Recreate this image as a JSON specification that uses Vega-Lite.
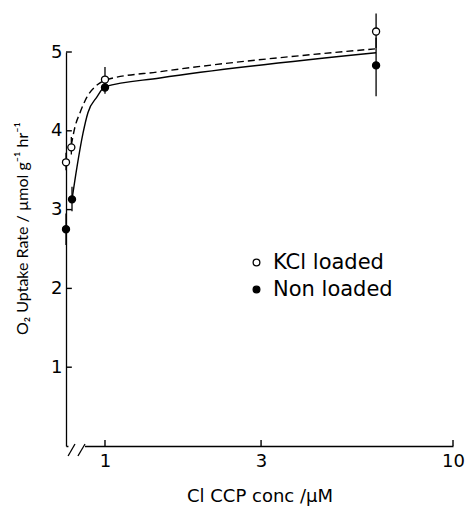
{
  "$schema": "https://vega.github.io/schema/vega-lite/v6.json",
  "width": 387,
  "height": 394,
  "autosize": {"type": "none"},
  "padding": {"left": 66, "top": 52, "right": 14, "bottom": 63},
  "background": "white",
  "config": {
    "view": {"stroke": null},
    "font": "DejaVu Sans",
    "axis": {
      "grid": false,
      "ticks": false,
      "domainColor": "black",
      "domainWidth": 1.3,
      "labelColor": "black",
      "titleColor": "black",
      "labelFont": "DejaVu Sans",
      "titleFont": "DejaVu Sans",
      "labelFontSize": 18,
      "titleFontSize": 17,
      "titleFontWeight": "normal"
    }
  },
  "datasets": {
    "points": [
      {"conc": 0.745, "rate": 3.6, "lo": 3.5, "hi": 3.72, "series": "KCl loaded"},
      {"conc": 0.776, "rate": 3.79, "lo": 3.7, "hi": 3.92, "series": "KCl loaded"},
      {"conc": 1.0, "rate": 4.65, "lo": 4.55, "hi": 4.81, "series": "KCl loaded"},
      {"conc": 6.28, "rate": 5.26, "lo": 5.05, "hi": 5.49, "series": "KCl loaded"},
      {"conc": 0.745, "rate": 2.75, "lo": 2.55, "hi": 2.95, "series": "Non loaded"},
      {"conc": 0.78, "rate": 3.13, "lo": 2.98, "hi": 3.29, "series": "Non loaded"},
      {"conc": 1.0, "rate": 4.55, "lo": 4.47, "hi": 4.63, "series": "Non loaded"},
      {"conc": 6.28, "rate": 4.83, "lo": 4.44, "hi": 5.18, "series": "Non loaded"}
    ],
    "fits": [
      {"conc": 0.776, "rate": 3.82, "series": "KCl loaded"},
      {"conc": 0.798, "rate": 4.05, "series": "KCl loaded"},
      {"conc": 0.829, "rate": 4.23, "series": "KCl loaded"},
      {"conc": 0.874, "rate": 4.43, "series": "KCl loaded"},
      {"conc": 0.942, "rate": 4.58, "series": "KCl loaded"},
      {"conc": 1.015, "rate": 4.65, "series": "KCl loaded"},
      {"conc": 1.493, "rate": 4.75, "series": "KCl loaded"},
      {"conc": 6.24, "rate": 5.04, "series": "KCl loaded"},
      {"conc": 0.78, "rate": 3.13, "series": "Non loaded"},
      {"conc": 0.81, "rate": 3.54, "series": "Non loaded"},
      {"conc": 0.848, "rate": 3.97, "series": "Non loaded"},
      {"conc": 0.88, "rate": 4.23, "series": "Non loaded"},
      {"conc": 0.942, "rate": 4.43, "series": "Non loaded"},
      {"conc": 1.0, "rate": 4.56, "series": "Non loaded"},
      {"conc": 1.493, "rate": 4.67, "series": "Non loaded"},
      {"conc": 6.28, "rate": 4.99, "series": "Non loaded"}
    ],
    "gap": [{"conc": 0.759, "conc2": 0.861, "rate": 0}],
    "slashes": [
      {"conc": 0.757, "conc2": 0.798, "rate": -0.127, "rate2": 0.025},
      {"conc": 0.816, "conc2": 0.861, "rate": -0.127, "rate2": 0.025}
    ],
    "yticks": [
      {"conc": 0.745, "conc2": 0.779, "rate": 1},
      {"conc": 0.745, "conc2": 0.779, "rate": 2},
      {"conc": 0.745, "conc2": 0.779, "rate": 3},
      {"conc": 0.745, "conc2": 0.779, "rate": 4},
      {"conc": 0.745, "conc2": 0.779, "rate": 5}
    ],
    "xticks": [
      {"conc": 1, "rate": 0, "rate2": 0.076},
      {"conc": 3, "rate": 0, "rate2": 0.076},
      {"conc": 10, "rate": 0, "rate2": 0.076}
    ]
  },
  "encoding": {
    "x": {
      "field": "conc", "type": "quantitative",
      "scale": {"type": "pow", "exponent": 0.1, "domain": [0.745, 10], "nice": false, "zero": false},
      "axis": {
        "values": [1, 3, 10], "format": "d", "labelPadding": 6, "labelFlush": false,
        "title": "Cl  CCP conc /µM", "titleFontSize": 18, "titleY": 55, "titleBaseline": "alphabetic"
      }
    },
    "y": {
      "field": "rate", "type": "quantitative",
      "scale": {"domain": [0, 5], "nice": false},
      "axis": {
        "values": [1, 2, 3, 4, 5], "format": "d", "labelPadding": 4,
        "title": "O₂ Uptake Rate / µmol g⁻¹ hr⁻¹", "titleFont": "Lato", "titleFontSize": 16,
        "titleX": -44, "titleY": 176, "titleBaseline": "middle", "titleAngle": -90
      }
    }
  },
  "layer": [
    {
      "data": {"name": "gap"},
      "mark": {"type": "rule", "stroke": "white", "strokeWidth": 4},
      "encoding": {"x2": {"field": "conc2"}}
    },
    {
      "data": {"name": "slashes"},
      "mark": {"type": "rule", "stroke": "black", "strokeWidth": 1.3},
      "encoding": {"x2": {"field": "conc2"}, "y2": {"field": "rate2"}}
    },
    {
      "data": {"name": "yticks"},
      "mark": {"type": "rule", "stroke": "black", "strokeWidth": 1.4},
      "encoding": {"x2": {"field": "conc2"}}
    },
    {
      "data": {"name": "xticks"},
      "mark": {"type": "rule", "stroke": "black", "strokeWidth": 1.4},
      "encoding": {"y2": {"field": "rate2"}}
    },
    {
      "data": {"name": "fits"},
      "transform": [{"filter": "datum.series === 'KCl loaded'"}],
      "mark": {"type": "line", "stroke": "black", "strokeWidth": 1.4, "strokeDash": [7, 4], "interpolate": "monotone"},
      "encoding": {}
    },
    {
      "data": {"name": "fits"},
      "transform": [{"filter": "datum.series === 'Non loaded'"}],
      "mark": {"type": "line", "stroke": "black", "strokeWidth": 1.4, "interpolate": "monotone"},
      "encoding": {}
    },
    {
      "data": {"name": "points"},
      "mark": {"type": "rule", "stroke": "black", "strokeWidth": 1.3},
      "encoding": {
        "y": {
          "field": "lo", "type": "quantitative",
          "scale": {"domain": [0, 5], "nice": false},
          "axis": {
            "values": [1, 2, 3, 4, 5], "format": "d", "labelPadding": 4,
            "title": "O₂ Uptake Rate / µmol g⁻¹ hr⁻¹", "titleFont": "Lato", "titleFontSize": 16,
            "titleX": -44, "titleY": 176, "titleBaseline": "middle", "titleAngle": -90
          }
        },
        "y2": {"field": "hi"}
      }
    },
    {
      "data": {"name": "points"},
      "mark": {"type": "circle", "stroke": "black", "strokeWidth": 1.3, "size": 50, "opacity": 1},
      "encoding": {
        "fill": {
          "field": "series", "type": "nominal",
          "scale": {"domain": ["KCl loaded", "Non loaded"], "range": ["white", "black"]},
          "legend": {
            "orient": "none", "legendX": 180, "legendY": 200, "title": null,
            "symbolType": "circle", "symbolSize": 45, "symbolStrokeColor": "black", "symbolStrokeWidth": 1.3,
            "labelFont": "DejaVu Sans", "labelFontSize": 21, "labelColor": "black",
            "labelOffset": 6, "rowPadding": 5, "padding": 0
          }
        }
      }
    }
  ]
}
